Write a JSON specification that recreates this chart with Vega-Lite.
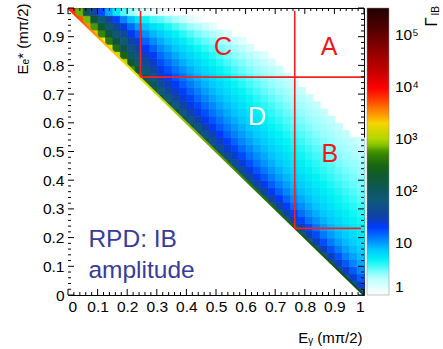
{
"$schema":"https://vega.github.io/schema/vega-lite/v6.json",
"width":296,"height":287,
"autosize":{"type":"none"},
"padding":{"left":68,"top":8,"right":79,"bottom":54},
"background":"white",
"config":{"view":{"stroke":null},"font":"Liberation Sans",
"axis":{"zindex":1,"grid":false,"domainColor":"black","domainWidth":1,"tickColor":"black","tickWidth":1,"labelColor":"black","labelFont":"Liberation Sans","labelFontSize":15.5,"titleFont":"Liberation Sans","titleFontWeight":"normal","titleColor":"black","titleFontSize":15}},
"datasets":{
"cells":[
{"x":0.0125,"y":0.9875,"v":6320},
{"x":0.0375,"y":0.9625,"v":4800},{"x":0.0375,"y":0.9875,"v":685},
{"x":0.0625,"y":0.9375,"v":3130},{"x":0.0625,"y":0.9625,"v":722},{"x":0.0625,"y":0.9875,"v":120},
{"x":0.0875,"y":0.9125,"v":2274},{"x":0.0875,"y":0.9375,"v":599},{"x":0.0875,"y":0.9625,"v":180},{"x":0.0875,"y":0.9875,"v":39.9},
{"x":0.1125,"y":0.8875,"v":1765},{"x":0.1125,"y":0.9125,"v":494},{"x":0.1125,"y":0.9375,"v":176.5},{"x":0.1125,"y":0.9625,"v":70.6},{"x":0.1125,"y":0.9875,"v":17.65},
{"x":0.1375,"y":0.8625,"v":1430},{"x":0.1375,"y":0.8875,"v":415},{"x":0.1375,"y":0.9125,"v":161},{"x":0.1375,"y":0.9375,"v":76.9},{"x":0.1375,"y":0.9625,"v":34.6},{"x":0.1375,"y":0.9875,"v":9.22},
{"x":0.1625,"y":0.8375,"v":1192},{"x":0.1625,"y":0.8625,"v":354},{"x":0.1625,"y":0.8875,"v":145},{"x":0.1625,"y":0.9125,"v":75.2},{"x":0.1625,"y":0.9375,"v":40.3},{"x":0.1625,"y":0.9625,"v":19.3},{"x":0.1625,"y":0.9875,"v":5.37},
{"x":0.1875,"y":0.8125,"v":1015},{"x":0.1875,"y":0.8375,"v":307},{"x":0.1875,"y":0.8625,"v":130},{"x":0.1875,"y":0.8875,"v":70.8},{"x":0.1875,"y":0.9125,"v":41.3},{"x":0.1875,"y":0.9375,"v":23.6},{"x":0.1875,"y":0.9625,"v":11.8},{"x":0.1875,"y":0.9875,"v":3.37},
{"x":0.2125,"y":0.7875,"v":562},{"x":0.2125,"y":0.8125,"v":194},{"x":0.2125,"y":0.8375,"v":91.2},{"x":0.2125,"y":0.8625,"v":54.5},{"x":0.2125,"y":0.8875,"v":35.1},{"x":0.2125,"y":0.9125,"v":22.9},{"x":0.2125,"y":0.9375,"v":14.4},{"x":0.2125,"y":0.9625,"v":7.89},{"x":0.2125,"y":0.9875,"v":2.60},
{"x":0.2375,"y":0.7625,"v":499},{"x":0.2375,"y":0.7875,"v":173},{"x":0.2375,"y":0.8125,"v":83.0},{"x":0.2375,"y":0.8375,"v":50.7},{"x":0.2375,"y":0.8625,"v":33.8},{"x":0.2375,"y":0.8875,"v":23.0},{"x":0.2375,"y":0.9125,"v":15.6},{"x":0.2375,"y":0.9375,"v":10.0},{"x":0.2375,"y":0.9625,"v":5.61},{"x":0.2375,"y":0.9875,"v":1.88},
{"x":0.2625,"y":0.7375,"v":294},{"x":0.2625,"y":0.7625,"v":115.5},{"x":0.2625,"y":0.7875,"v":60.7},{"x":0.2625,"y":0.8125,"v":39.7},{"x":0.2625,"y":0.8375,"v":28.1},{"x":0.2625,"y":0.8625,"v":20.6},{"x":0.2625,"y":0.8875,"v":15.1},{"x":0.2625,"y":0.9125,"v":10.9},{"x":0.2625,"y":0.9375,"v":7.52},{"x":0.2625,"y":0.9625,"v":4.55},{"x":0.2625,"y":0.9875,"v":1.73},
{"x":0.2875,"y":0.7125,"v":268},{"x":0.2875,"y":0.7375,"v":106},{"x":0.2875,"y":0.7625,"v":56.2},{"x":0.2875,"y":0.7875,"v":37.2},{"x":0.2875,"y":0.8125,"v":26.7},{"x":0.2875,"y":0.8375,"v":19.9},{"x":0.2875,"y":0.8625,"v":15.1},{"x":0.2875,"y":0.8875,"v":11.3},{"x":0.2875,"y":0.9125,"v":8.35},{"x":0.2875,"y":0.9375,"v":5.81},{"x":0.2875,"y":0.9625,"v":3.55},{"x":0.2875,"y":0.9875,"v":1.36},
{"x":0.3125,"y":0.6875,"v":166},{"x":0.3125,"y":0.7125,"v":73.8},{"x":0.3125,"y":0.7375,"v":42.6},{"x":0.3125,"y":0.7625,"v":29.9},{"x":0.3125,"y":0.7875,"v":22.6},{"x":0.3125,"y":0.8125,"v":17.7},{"x":0.3125,"y":0.8375,"v":14.1},{"x":0.3125,"y":0.8625,"v":11.2},{"x":0.3125,"y":0.8875,"v":8.93},{"x":0.3125,"y":0.9125,"v":6.90},{"x":0.3125,"y":0.9375,"v":5.06},{"x":0.3125,"y":0.9625,"v":3.32},{"x":0.3125,"y":0.9875,"v":1.45},
{"x":0.3375,"y":0.6625,"v":155},{"x":0.3375,"y":0.6875,"v":69.2},{"x":0.3375,"y":0.7125,"v":40.2},{"x":0.3375,"y":0.7375,"v":28.4},{"x":0.3375,"y":0.7625,"v":21.6},{"x":0.3375,"y":0.7875,"v":17.1},{"x":0.3375,"y":0.8125,"v":13.8},{"x":0.3375,"y":0.8375,"v":11.2},{"x":0.3375,"y":0.8625,"v":9.08},{"x":0.3375,"y":0.8875,"v":7.27},{"x":0.3375,"y":0.9125,"v":5.66},{"x":0.3375,"y":0.9375,"v":4.19},{"x":0.3375,"y":0.9625,"v":2.75},{"x":0.3375,"y":0.9875,"v":1.21},
{"x":0.3625,"y":0.6375,"v":145},{"x":0.3625,"y":0.6625,"v":64.9},{"x":0.3625,"y":0.6875,"v":37.9},{"x":0.3625,"y":0.7125,"v":26.9},{"x":0.3625,"y":0.7375,"v":20.6},{"x":0.3625,"y":0.7625,"v":16.5},{"x":0.3625,"y":0.7875,"v":13.4},{"x":0.3625,"y":0.8125,"v":11.1},{"x":0.3625,"y":0.8375,"v":9.08},{"x":0.3625,"y":0.8625,"v":7.44},{"x":0.3625,"y":0.8875,"v":6.01},{"x":0.3625,"y":0.9125,"v":4.71},{"x":0.3625,"y":0.9375,"v":3.51},{"x":0.3625,"y":0.9625,"v":2.31},{"x":0.3625,"y":0.9875,"v":1.02},
{"x":0.3875,"y":0.6125,"v":136},{"x":0.3875,"y":0.6375,"v":61.4},{"x":0.3875,"y":0.6625,"v":35.9},{"x":0.3875,"y":0.6875,"v":25.6},{"x":0.3875,"y":0.7125,"v":19.7},{"x":0.3875,"y":0.7375,"v":15.8},{"x":0.3875,"y":0.7625,"v":13.0},{"x":0.3875,"y":0.7875,"v":10.8},{"x":0.3875,"y":0.8125,"v":9.01},{"x":0.3875,"y":0.8375,"v":7.50},{"x":0.3875,"y":0.8625,"v":6.21},{"x":0.3875,"y":0.8875,"v":5.04},{"x":0.3875,"y":0.9125,"v":3.98},{"x":0.3875,"y":0.9375,"v":2.97},{"x":0.3875,"y":0.9625,"v":1.97},
{"x":0.4125,"y":0.5875,"v":128},{"x":0.4125,"y":0.6125,"v":58.0},{"x":0.4125,"y":0.6375,"v":34.0},{"x":0.4125,"y":0.6625,"v":24.4},{"x":0.4125,"y":0.6875,"v":18.9},{"x":0.4125,"y":0.7125,"v":15.2},{"x":0.4125,"y":0.7375,"v":12.6},{"x":0.4125,"y":0.7625,"v":10.5},{"x":0.4125,"y":0.7875,"v":8.87},{"x":0.4125,"y":0.8125,"v":7.48},{"x":0.4125,"y":0.8375,"v":6.29},{"x":0.4125,"y":0.8625,"v":5.24},{"x":0.4125,"y":0.8875,"v":4.27},{"x":0.4125,"y":0.9125,"v":3.40},{"x":0.4125,"y":0.9375,"v":2.54},{"x":0.4125,"y":0.9625,"v":1.70},
{"x":0.4375,"y":0.5625,"v":122},{"x":0.4375,"y":0.5875,"v":54.7},{"x":0.4375,"y":0.6125,"v":32.4},{"x":0.4375,"y":0.6375,"v":23.2},{"x":0.4375,"y":0.6625,"v":18.1},{"x":0.4375,"y":0.6875,"v":14.6},{"x":0.4375,"y":0.7125,"v":12.2},{"x":0.4375,"y":0.7375,"v":10.2},{"x":0.4375,"y":0.7625,"v":8.69},{"x":0.4375,"y":0.7875,"v":7.41},{"x":0.4375,"y":0.8125,"v":6.31},{"x":0.4375,"y":0.8375,"v":5.33},{"x":0.4375,"y":0.8625,"v":4.47},{"x":0.4375,"y":0.8875,"v":3.67},{"x":0.4375,"y":0.9125,"v":2.92},{"x":0.4375,"y":0.9375,"v":2.21},{"x":0.4375,"y":0.9625,"v":1.47},
{"x":0.4625,"y":0.5375,"v":115},{"x":0.4625,"y":0.5625,"v":52.0},{"x":0.4625,"y":0.5875,"v":30.8},{"x":0.4625,"y":0.6125,"v":22.2},{"x":0.4625,"y":0.6375,"v":17.3},{"x":0.4625,"y":0.6625,"v":14.1},{"x":0.4625,"y":0.6875,"v":11.8},{"x":0.4625,"y":0.7125,"v":9.95},{"x":0.4625,"y":0.7375,"v":8.50},{"x":0.4625,"y":0.7625,"v":7.30},{"x":0.4625,"y":0.7875,"v":6.27},{"x":0.4625,"y":0.8125,"v":5.38},{"x":0.4625,"y":0.8375,"v":4.57},{"x":0.4625,"y":0.8625,"v":3.85},{"x":0.4625,"y":0.8875,"v":3.18},{"x":0.4625,"y":0.9125,"v":2.54},{"x":0.4625,"y":0.9375,"v":1.92},
{"x":0.4875,"y":0.5125,"v":110},{"x":0.4875,"y":0.5375,"v":49.7},{"x":0.4875,"y":0.5625,"v":29.4},{"x":0.4875,"y":0.5875,"v":21.2},{"x":0.4875,"y":0.6125,"v":16.6},{"x":0.4875,"y":0.6375,"v":13.5},{"x":0.4875,"y":0.6625,"v":11.4},{"x":0.4875,"y":0.6875,"v":9.66},{"x":0.4875,"y":0.7125,"v":8.29},{"x":0.4875,"y":0.7375,"v":7.18},{"x":0.4875,"y":0.7625,"v":6.21},{"x":0.4875,"y":0.7875,"v":5.38},{"x":0.4875,"y":0.8125,"v":4.63},{"x":0.4875,"y":0.8375,"v":3.97},{"x":0.4875,"y":0.8625,"v":3.35},{"x":0.4875,"y":0.8875,"v":2.77},{"x":0.4875,"y":0.9125,"v":2.22},{"x":0.4875,"y":0.9375,"v":1.68},
{"x":0.5125,"y":0.4875,"v":104},{"x":0.5125,"y":0.5125,"v":47.3},{"x":0.5125,"y":0.5375,"v":28.0},{"x":0.5125,"y":0.5625,"v":20.3},{"x":0.5125,"y":0.5875,"v":16.0},{"x":0.5125,"y":0.6125,"v":13.1},{"x":0.5125,"y":0.6375,"v":11.0},{"x":0.5125,"y":0.6625,"v":9.37},{"x":0.5125,"y":0.6875,"v":8.09},{"x":0.5125,"y":0.7125,"v":7.03},{"x":0.5125,"y":0.7375,"v":6.12},{"x":0.5125,"y":0.7625,"v":5.34},{"x":0.5125,"y":0.7875,"v":4.65},{"x":0.5125,"y":0.8125,"v":4.03},{"x":0.5125,"y":0.8375,"v":3.46},{"x":0.5125,"y":0.8625,"v":2.94},{"x":0.5125,"y":0.8875,"v":2.44},{"x":0.5125,"y":0.9125,"v":1.96},
{"x":0.5375,"y":0.4625,"v":99.9},{"x":0.5375,"y":0.4875,"v":45.2},{"x":0.5375,"y":0.5125,"v":26.9},{"x":0.5375,"y":0.5375,"v":19.5},{"x":0.5375,"y":0.5625,"v":15.3},{"x":0.5375,"y":0.5875,"v":12.6},{"x":0.5375,"y":0.6125,"v":10.6},{"x":0.5375,"y":0.6375,"v":9.10},{"x":0.5375,"y":0.6625,"v":7.88},{"x":0.5375,"y":0.6875,"v":6.87},{"x":0.5375,"y":0.7125,"v":6.02},{"x":0.5375,"y":0.7375,"v":5.28},{"x":0.5375,"y":0.7625,"v":4.63},{"x":0.5375,"y":0.7875,"v":4.05},{"x":0.5375,"y":0.8125,"v":3.52},{"x":0.5375,"y":0.8375,"v":3.04},{"x":0.5375,"y":0.8625,"v":2.58},{"x":0.5375,"y":0.8875,"v":2.15},{"x":0.5375,"y":0.9125,"v":1.74},
{"x":0.5625,"y":0.4375,"v":95.4},{"x":0.5625,"y":0.4625,"v":43.3},{"x":0.5625,"y":0.4875,"v":25.8},{"x":0.5625,"y":0.5125,"v":18.7},{"x":0.5625,"y":0.5375,"v":14.8},{"x":0.5625,"y":0.5625,"v":12.2},{"x":0.5625,"y":0.5875,"v":10.3},{"x":0.5625,"y":0.6125,"v":8.83},{"x":0.5625,"y":0.6375,"v":7.67},{"x":0.5625,"y":0.6625,"v":6.71},{"x":0.5625,"y":0.6875,"v":5.91},{"x":0.5625,"y":0.7125,"v":5.22},{"x":0.5625,"y":0.7375,"v":4.60},{"x":0.5625,"y":0.7625,"v":4.05},{"x":0.5625,"y":0.7875,"v":3.57},{"x":0.5625,"y":0.8125,"v":3.11},{"x":0.5625,"y":0.8375,"v":2.70},{"x":0.5625,"y":0.8625,"v":2.30},{"x":0.5625,"y":0.8875,"v":1.92},
{"x":0.5875,"y":0.4125,"v":91.6},{"x":0.5875,"y":0.4375,"v":41.6},{"x":0.5875,"y":0.4625,"v":24.8},{"x":0.5875,"y":0.4875,"v":18.1},{"x":0.5875,"y":0.5125,"v":14.2},{"x":0.5875,"y":0.5375,"v":11.7},{"x":0.5875,"y":0.5625,"v":9.95},{"x":0.5875,"y":0.5875,"v":8.57},{"x":0.5875,"y":0.6125,"v":7.46},{"x":0.5875,"y":0.6375,"v":6.56},{"x":0.5875,"y":0.6625,"v":5.80},{"x":0.5875,"y":0.6875,"v":5.14},{"x":0.5875,"y":0.7125,"v":4.56},{"x":0.5875,"y":0.7375,"v":4.05},{"x":0.5875,"y":0.7625,"v":3.58},{"x":0.5875,"y":0.7875,"v":3.15},{"x":0.5875,"y":0.8125,"v":2.77},{"x":0.5875,"y":0.8375,"v":2.40},{"x":0.5875,"y":0.8625,"v":2.06},{"x":0.5875,"y":0.8875,"v":1.72},
{"x":0.6125,"y":0.3875,"v":87.7},{"x":0.6125,"y":0.4125,"v":40.0},{"x":0.6125,"y":0.4375,"v":23.9},{"x":0.6125,"y":0.4625,"v":17.4},{"x":0.6125,"y":0.4875,"v":13.7},{"x":0.6125,"y":0.5125,"v":11.4},{"x":0.6125,"y":0.5375,"v":9.64},{"x":0.6125,"y":0.5625,"v":8.33},{"x":0.6125,"y":0.5875,"v":7.27},{"x":0.6125,"y":0.6125,"v":6.41},{"x":0.6125,"y":0.6375,"v":5.69},{"x":0.6125,"y":0.6625,"v":5.06},{"x":0.6125,"y":0.6875,"v":4.51},{"x":0.6125,"y":0.7125,"v":4.01},{"x":0.6125,"y":0.7375,"v":3.58},{"x":0.6125,"y":0.7625,"v":3.18},{"x":0.6125,"y":0.7875,"v":2.81},{"x":0.6125,"y":0.8125,"v":2.46},{"x":0.6125,"y":0.8375,"v":2.15},{"x":0.6125,"y":0.8625,"v":1.84},
{"x":0.6375,"y":0.3625,"v":84.5},{"x":0.6375,"y":0.3875,"v":38.5},{"x":0.6375,"y":0.4125,"v":22.9},{"x":0.6375,"y":0.4375,"v":16.8},{"x":0.6375,"y":0.4625,"v":13.3},{"x":0.6375,"y":0.4875,"v":11.0},{"x":0.6375,"y":0.5125,"v":9.35},{"x":0.6375,"y":0.5375,"v":8.09},{"x":0.6375,"y":0.5625,"v":7.08},{"x":0.6375,"y":0.5875,"v":6.25},{"x":0.6375,"y":0.6125,"v":5.57},{"x":0.6375,"y":0.6375,"v":4.97},{"x":0.6375,"y":0.6625,"v":4.44},{"x":0.6375,"y":0.6875,"v":3.99},{"x":0.6375,"y":0.7125,"v":3.57},{"x":0.6375,"y":0.7375,"v":3.19},{"x":0.6375,"y":0.7625,"v":2.84},{"x":0.6375,"y":0.7875,"v":2.52},{"x":0.6375,"y":0.8125,"v":2.22},{"x":0.6375,"y":0.8375,"v":1.93},
{"x":0.6625,"y":0.3375,"v":81.2},{"x":0.6625,"y":0.3625,"v":37.1},{"x":0.6625,"y":0.3875,"v":22.2},{"x":0.6625,"y":0.4125,"v":16.2},{"x":0.6625,"y":0.4375,"v":12.9},{"x":0.6625,"y":0.4625,"v":10.6},{"x":0.6625,"y":0.4875,"v":9.07},{"x":0.6625,"y":0.5125,"v":7.86},{"x":0.6625,"y":0.5375,"v":6.90},{"x":0.6625,"y":0.5625,"v":6.11},{"x":0.6625,"y":0.5875,"v":5.45},{"x":0.6625,"y":0.6125,"v":4.89},{"x":0.6625,"y":0.6375,"v":4.38},{"x":0.6625,"y":0.6625,"v":3.94},{"x":0.6625,"y":0.6875,"v":3.55},{"x":0.6625,"y":0.7125,"v":3.19},{"x":0.6625,"y":0.7375,"v":2.86},{"x":0.6625,"y":0.7625,"v":2.55},{"x":0.6625,"y":0.7875,"v":2.27},{"x":0.6625,"y":0.8125,"v":2.00},{"x":0.6625,"y":0.8375,"v":1.75},
{"x":0.6875,"y":0.3125,"v":78.3},{"x":0.6875,"y":0.3375,"v":35.7},{"x":0.6875,"y":0.3625,"v":21.4},{"x":0.6875,"y":0.3875,"v":15.7},{"x":0.6875,"y":0.4125,"v":12.4},{"x":0.6875,"y":0.4375,"v":10.3},{"x":0.6875,"y":0.4625,"v":8.81},{"x":0.6875,"y":0.4875,"v":7.65},{"x":0.6875,"y":0.5125,"v":6.72},{"x":0.6875,"y":0.5375,"v":5.97},{"x":0.6875,"y":0.5625,"v":5.33},{"x":0.6875,"y":0.5875,"v":4.78},{"x":0.6875,"y":0.6125,"v":4.31},{"x":0.6875,"y":0.6375,"v":3.89},{"x":0.6875,"y":0.6625,"v":3.51},{"x":0.6875,"y":0.6875,"v":3.17},{"x":0.6875,"y":0.7125,"v":2.86},{"x":0.6875,"y":0.7375,"v":2.57},{"x":0.6875,"y":0.7625,"v":2.31},{"x":0.6875,"y":0.7875,"v":2.06},{"x":0.6875,"y":0.8125,"v":1.82},
{"x":0.7125,"y":0.2875,"v":75.8},{"x":0.7125,"y":0.3125,"v":34.6},{"x":0.7125,"y":0.3375,"v":20.7},{"x":0.7125,"y":0.3625,"v":15.2},{"x":0.7125,"y":0.3875,"v":12.1},{"x":0.7125,"y":0.4125,"v":10.0},{"x":0.7125,"y":0.4375,"v":8.57},{"x":0.7125,"y":0.4625,"v":7.44},{"x":0.7125,"y":0.4875,"v":6.57},{"x":0.7125,"y":0.5125,"v":5.83},{"x":0.7125,"y":0.5375,"v":5.24},{"x":0.7125,"y":0.5625,"v":4.70},{"x":0.7125,"y":0.5875,"v":4.25},{"x":0.7125,"y":0.6125,"v":3.85},{"x":0.7125,"y":0.6375,"v":3.48},{"x":0.7125,"y":0.6625,"v":3.15},{"x":0.7125,"y":0.6875,"v":2.86},{"x":0.7125,"y":0.7125,"v":2.58},{"x":0.7125,"y":0.7375,"v":2.32},{"x":0.7125,"y":0.7625,"v":2.10},{"x":0.7125,"y":0.7875,"v":1.87},
{"x":0.7375,"y":0.2625,"v":73.4},{"x":0.7375,"y":0.2875,"v":33.5},{"x":0.7375,"y":0.3125,"v":20.1},{"x":0.7375,"y":0.3375,"v":14.8},{"x":0.7375,"y":0.3625,"v":11.7},{"x":0.7375,"y":0.3875,"v":9.77},{"x":0.7375,"y":0.4125,"v":8.34},{"x":0.7375,"y":0.4375,"v":7.27},{"x":0.7375,"y":0.4625,"v":6.41},{"x":0.7375,"y":0.4875,"v":5.72},{"x":0.7375,"y":0.5125,"v":5.12},{"x":0.7375,"y":0.5375,"v":4.61},{"x":0.7375,"y":0.5625,"v":4.19},{"x":0.7375,"y":0.5875,"v":3.78},{"x":0.7375,"y":0.6125,"v":3.45},{"x":0.7375,"y":0.6375,"v":3.13},{"x":0.7375,"y":0.6625,"v":2.85},{"x":0.7375,"y":0.6875,"v":2.58},{"x":0.7375,"y":0.7125,"v":2.35},{"x":0.7375,"y":0.7375,"v":2.12},{"x":0.7375,"y":0.7625,"v":1.91},
{"x":0.7625,"y":0.2375,"v":70.9},{"x":0.7625,"y":0.2625,"v":32.4},{"x":0.7625,"y":0.2875,"v":19.5},{"x":0.7625,"y":0.3125,"v":14.3},{"x":0.7625,"y":0.3375,"v":11.4},{"x":0.7625,"y":0.3625,"v":9.50},{"x":0.7625,"y":0.3875,"v":8.12},{"x":0.7625,"y":0.4125,"v":7.09},{"x":0.7625,"y":0.4375,"v":6.26},{"x":0.7625,"y":0.4625,"v":5.58},{"x":0.7625,"y":0.4875,"v":5.02},{"x":0.7625,"y":0.5125,"v":4.53},{"x":0.7625,"y":0.5375,"v":4.11},{"x":0.7625,"y":0.5625,"v":3.74},{"x":0.7625,"y":0.5875,"v":3.40},{"x":0.7625,"y":0.6125,"v":3.11},{"x":0.7625,"y":0.6375,"v":2.84},{"x":0.7625,"y":0.6625,"v":2.58},{"x":0.7625,"y":0.6875,"v":2.35},{"x":0.7625,"y":0.7125,"v":2.14},{"x":0.7625,"y":0.7375,"v":1.93},
{"x":0.7875,"y":0.2125,"v":69.2},{"x":0.7875,"y":0.2375,"v":31.5},{"x":0.7875,"y":0.2625,"v":19.0},{"x":0.7875,"y":0.2875,"v":13.9},{"x":0.7875,"y":0.3125,"v":11.1},{"x":0.7875,"y":0.3375,"v":9.26},{"x":0.7875,"y":0.3625,"v":7.93},{"x":0.7875,"y":0.3875,"v":6.93},{"x":0.7875,"y":0.4125,"v":6.12},{"x":0.7875,"y":0.4375,"v":5.47},{"x":0.7875,"y":0.4625,"v":4.92},{"x":0.7875,"y":0.4875,"v":4.45},{"x":0.7875,"y":0.5125,"v":4.05},{"x":0.7875,"y":0.5375,"v":3.69},{"x":0.7875,"y":0.5625,"v":3.37},{"x":0.7875,"y":0.5875,"v":3.07},{"x":0.7875,"y":0.6125,"v":2.81},{"x":0.7875,"y":0.6375,"v":2.58},{"x":0.7875,"y":0.6625,"v":2.35},{"x":0.7875,"y":0.6875,"v":2.15},{"x":0.7875,"y":0.7125,"v":1.96},
{"x":0.8125,"y":0.1875,"v":67.0},{"x":0.8125,"y":0.2125,"v":30.7},{"x":0.8125,"y":0.2375,"v":18.4},{"x":0.8125,"y":0.2625,"v":13.5},{"x":0.8125,"y":0.2875,"v":10.8},{"x":0.8125,"y":0.3125,"v":9.03},{"x":0.8125,"y":0.3375,"v":7.76},{"x":0.8125,"y":0.3625,"v":6.77},{"x":0.8125,"y":0.3875,"v":6.00},{"x":0.8125,"y":0.4125,"v":5.36},{"x":0.8125,"y":0.4375,"v":4.84},{"x":0.8125,"y":0.4625,"v":4.37},{"x":0.8125,"y":0.4875,"v":3.99},{"x":0.8125,"y":0.5125,"v":3.64},{"x":0.8125,"y":0.5375,"v":3.33},{"x":0.8125,"y":0.5625,"v":3.05},{"x":0.8125,"y":0.5875,"v":2.80},{"x":0.8125,"y":0.6125,"v":2.57},{"x":0.8125,"y":0.6375,"v":2.35},{"x":0.8125,"y":0.6625,"v":2.15},{"x":0.8125,"y":0.6875,"v":1.97},
{"x":0.8375,"y":0.1625,"v":65.4},{"x":0.8375,"y":0.1875,"v":29.8},{"x":0.8375,"y":0.2125,"v":17.9},{"x":0.8375,"y":0.2375,"v":13.2},{"x":0.8375,"y":0.2625,"v":10.6},{"x":0.8375,"y":0.2875,"v":8.83},{"x":0.8375,"y":0.3125,"v":7.58},{"x":0.8375,"y":0.3375,"v":6.64},{"x":0.8375,"y":0.3625,"v":5.87},{"x":0.8375,"y":0.3875,"v":5.26},{"x":0.8375,"y":0.4125,"v":4.75},{"x":0.8375,"y":0.4375,"v":4.30},{"x":0.8375,"y":0.4625,"v":3.92},{"x":0.8375,"y":0.4875,"v":3.59},{"x":0.8375,"y":0.5125,"v":3.30},{"x":0.8375,"y":0.5375,"v":3.02},{"x":0.8375,"y":0.5625,"v":2.78},{"x":0.8375,"y":0.5875,"v":2.55},{"x":0.8375,"y":0.6125,"v":2.35},{"x":0.8375,"y":0.6375,"v":2.16},{"x":0.8375,"y":0.6625,"v":1.98},
{"x":0.8625,"y":0.1375,"v":63.5},{"x":0.8625,"y":0.1625,"v":29.1},{"x":0.8625,"y":0.1875,"v":17.6},{"x":0.8625,"y":0.2125,"v":12.9},{"x":0.8625,"y":0.2375,"v":10.3},{"x":0.8625,"y":0.2625,"v":8.63},{"x":0.8625,"y":0.2875,"v":7.43},{"x":0.8625,"y":0.3125,"v":6.50},{"x":0.8625,"y":0.3375,"v":5.77},{"x":0.8625,"y":0.3625,"v":5.16},{"x":0.8625,"y":0.3875,"v":4.67},{"x":0.8625,"y":0.4125,"v":4.25},{"x":0.8625,"y":0.4375,"v":3.87},{"x":0.8625,"y":0.4625,"v":3.55},{"x":0.8625,"y":0.4875,"v":3.26},{"x":0.8625,"y":0.5125,"v":2.99},{"x":0.8625,"y":0.5375,"v":2.75},{"x":0.8625,"y":0.5625,"v":2.54},{"x":0.8625,"y":0.5875,"v":2.35},{"x":0.8625,"y":0.6125,"v":2.16},{"x":0.8625,"y":0.6375,"v":1.99},
{"x":0.8875,"y":0.1125,"v":62.3},{"x":0.8875,"y":0.1375,"v":28.4},{"x":0.8875,"y":0.1625,"v":17.1},{"x":0.8875,"y":0.1875,"v":12.6},{"x":0.8875,"y":0.2125,"v":10.1},{"x":0.8875,"y":0.2375,"v":8.45},{"x":0.8875,"y":0.2625,"v":7.27},{"x":0.8875,"y":0.2875,"v":6.38},{"x":0.8875,"y":0.3125,"v":5.66},{"x":0.8875,"y":0.3375,"v":5.08},{"x":0.8875,"y":0.3625,"v":4.59},{"x":0.8875,"y":0.3875,"v":4.17},{"x":0.8875,"y":0.4125,"v":3.82},{"x":0.8875,"y":0.4375,"v":3.51},{"x":0.8875,"y":0.4625,"v":3.21},{"x":0.8875,"y":0.4875,"v":2.97},{"x":0.8875,"y":0.5125,"v":2.74},{"x":0.8875,"y":0.5375,"v":2.53},{"x":0.8875,"y":0.5625,"v":2.34},{"x":0.8875,"y":0.5875,"v":2.16},{"x":0.8875,"y":0.6125,"v":2.00},
{"x":0.9125,"y":0.0875,"v":60.7},{"x":0.9125,"y":0.1125,"v":27.8},{"x":0.9125,"y":0.1375,"v":16.8},{"x":0.9125,"y":0.1625,"v":12.4},{"x":0.9125,"y":0.1875,"v":9.90},{"x":0.9125,"y":0.2125,"v":8.28},{"x":0.9125,"y":0.2375,"v":7.13},{"x":0.9125,"y":0.2625,"v":6.25},{"x":0.9125,"y":0.2875,"v":5.56},{"x":0.9125,"y":0.3125,"v":5.00},{"x":0.9125,"y":0.3375,"v":4.53},{"x":0.9125,"y":0.3625,"v":4.12},{"x":0.9125,"y":0.3875,"v":3.76},{"x":0.9125,"y":0.4125,"v":3.46},{"x":0.9125,"y":0.4375,"v":3.18},{"x":0.9125,"y":0.4625,"v":2.94},{"x":0.9125,"y":0.4875,"v":2.71},{"x":0.9125,"y":0.5125,"v":2.52},{"x":0.9125,"y":0.5375,"v":2.32},{"x":0.9125,"y":0.5625,"v":2.15},{"x":0.9125,"y":0.5875,"v":2.00},
{"x":0.9375,"y":0.0625,"v":59.4},{"x":0.9375,"y":0.0875,"v":27.2},{"x":0.9375,"y":0.1125,"v":16.4},{"x":0.9375,"y":0.1375,"v":12.1},{"x":0.9375,"y":0.1625,"v":9.70},{"x":0.9375,"y":0.1875,"v":8.12},{"x":0.9375,"y":0.2125,"v":7.01},{"x":0.9375,"y":0.2375,"v":6.15},{"x":0.9375,"y":0.2625,"v":5.47},{"x":0.9375,"y":0.2875,"v":4.92},{"x":0.9375,"y":0.3125,"v":4.45},{"x":0.9375,"y":0.3375,"v":4.05},{"x":0.9375,"y":0.3625,"v":3.72},{"x":0.9375,"y":0.3875,"v":3.42},{"x":0.9375,"y":0.4125,"v":3.15},{"x":0.9375,"y":0.4375,"v":2.91},{"x":0.9375,"y":0.4625,"v":2.70},{"x":0.9375,"y":0.4875,"v":2.50},{"x":0.9375,"y":0.5125,"v":2.32},{"x":0.9375,"y":0.5375,"v":2.15},{"x":0.9375,"y":0.5625,"v":2.00},
{"x":0.9625,"y":0.0375,"v":58.5},{"x":0.9625,"y":0.0625,"v":26.7},{"x":0.9625,"y":0.0875,"v":16.1},{"x":0.9625,"y":0.1125,"v":11.9},{"x":0.9625,"y":0.1375,"v":9.53},{"x":0.9625,"y":0.1625,"v":8.00},{"x":0.9625,"y":0.1875,"v":6.90},{"x":0.9625,"y":0.2125,"v":6.05},{"x":0.9625,"y":0.2375,"v":5.38},{"x":0.9625,"y":0.2625,"v":4.84},{"x":0.9625,"y":0.2875,"v":4.39},{"x":0.9625,"y":0.3125,"v":4.01},{"x":0.9625,"y":0.3375,"v":3.68},{"x":0.9625,"y":0.3625,"v":3.38},{"x":0.9625,"y":0.3875,"v":3.12},{"x":0.9625,"y":0.4125,"v":2.89},{"x":0.9625,"y":0.4375,"v":2.68},{"x":0.9625,"y":0.4625,"v":2.49},{"x":0.9625,"y":0.4875,"v":2.31},{"x":0.9625,"y":0.5125,"v":2.15},{"x":0.9625,"y":0.5375,"v":2.00},
{"x":0.9875,"y":0.0125,"v":57.4},{"x":0.9875,"y":0.0375,"v":26.2},{"x":0.9875,"y":0.0625,"v":15.8},{"x":0.9875,"y":0.0875,"v":11.7},{"x":0.9875,"y":0.1125,"v":9.39},{"x":0.9875,"y":0.1375,"v":7.86},{"x":0.9875,"y":0.1625,"v":6.79},{"x":0.9875,"y":0.1875,"v":5.96},{"x":0.9875,"y":0.2125,"v":5.31},{"x":0.9875,"y":0.2375,"v":4.78},{"x":0.9875,"y":0.2625,"v":4.34},{"x":0.9875,"y":0.2875,"v":3.97},{"x":0.9875,"y":0.3125,"v":3.64},{"x":0.9875,"y":0.3375,"v":3.35},{"x":0.9875,"y":0.3625,"v":3.10},{"x":0.9875,"y":0.3875,"v":2.87},{"x":0.9875,"y":0.4125,"v":2.67},{"x":0.9875,"y":0.4375,"v":2.48},{"x":0.9875,"y":0.4625,"v":2.31},{"x":0.9875,"y":0.4875,"v":2.15},{"x":0.9875,"y":0.5125,"v":2.00},{"x":0.9875,"y":0.5375,"v":1.86}
],
"lines":[
{"x":0.245,"x2":0.245,"y":0.759,"y2":0.99},
{"x":0.245,"x2":1.0,"y":0.759,"y2":0.759},
{"x":0.766,"x2":0.766,"y":0.232,"y2":0.99},
{"x":0.766,"x2":0.99,"y":0.232,"y2":0.232}
],
"tk":[
{"p":0,"m":1},{"p":0.02,"m":0},{"p":0.04,"m":0},{"p":0.06,"m":0},{"p":0.08,"m":0},
{"p":0.1,"m":1},{"p":0.12,"m":0},{"p":0.14,"m":0},{"p":0.16,"m":0},{"p":0.18,"m":0},
{"p":0.2,"m":1},{"p":0.22,"m":0},{"p":0.24,"m":0},{"p":0.26,"m":0},{"p":0.28,"m":0},
{"p":0.3,"m":1},{"p":0.32,"m":0},{"p":0.34,"m":0},{"p":0.36,"m":0},{"p":0.38,"m":0},
{"p":0.4,"m":1},{"p":0.42,"m":0},{"p":0.44,"m":0},{"p":0.46,"m":0},{"p":0.48,"m":0},
{"p":0.5,"m":1},{"p":0.52,"m":0},{"p":0.54,"m":0},{"p":0.56,"m":0},{"p":0.58,"m":0},
{"p":0.6,"m":1},{"p":0.62,"m":0},{"p":0.64,"m":0},{"p":0.66,"m":0},{"p":0.68,"m":0},
{"p":0.7,"m":1},{"p":0.72,"m":0},{"p":0.74,"m":0},{"p":0.76,"m":0},{"p":0.78,"m":0},
{"p":0.8,"m":1},{"p":0.82,"m":0},{"p":0.84,"m":0},{"p":0.86,"m":0},{"p":0.88,"m":0},
{"p":0.9,"m":1},{"p":0.92,"m":0},{"p":0.94,"m":0},{"p":0.96,"m":0},{"p":0.98,"m":0},
{"p":1,"m":1}
]
},
"layer":[
{"data":{"name":"cells"},
"mark":{"type":"rect","binSpacing":0,"strokeWidth":0.7,"stroke":{"expr":"scale('color', datum.v)"}},
"encoding":{
"x":{"field":"x","type":"quantitative","bin":{"step":0.025,"extent":[0,1]},"scale":{"domain":[0,1],"nice":false,"zero":false},
"axis":{"orient":"bottom","values":[0,0.1,0.2,0.3,0.4,0.5,0.6,0.7,0.8,0.9,1],"format":"~g","ticks":false,"domain":true,"labelPadding":4,"title":"Eᵧ (mπ/2)","titleX":294,"titleY":42,"titleAlign":"right","titleBaseline":"middle","titleAnchor":"end"}},
"y":{"field":"y","type":"quantitative","bin":{"step":0.025,"extent":[0,1]},"scale":{"domain":[0,1],"nice":false,"zero":false},
"axis":{"orient":"left","values":[0,0.1,0.2,0.3,0.4,0.5,0.6,0.7,0.8,0.9,1],"format":"~g","ticks":false,"domain":true,"labelPadding":4,"title":"Eₑ* (mπ/2)","titleX":-46,"titleY":-5,"titleAngle":270,"titleAlign":"right","titleBaseline":"middle","titleAnchor":"end"}},
"color":{"field":"v","type":"quantitative",
"scale":{"type":"log","domain":[1,1.6,2.63,4.68,7.41,11.5,20.4,31.6,67.6,141,288,562,741,1148,1778,2344,3631,5623,9550,17783,38019,79433,331131],
"range":["#ffffff","#eaffff","#90ffff","#00f4f4","#00c8ff","#0088ff","#0038ff","#1040a8","#0f5a78","#0c5448","#166014","#3c8c00","#80c000","#c8e000","#f0f000","#ffb400","#ff8000","#ff4000","#ff0000","#cc0000","#a00000","#700000","#200000"],"interpolate":"rgb","clamp":true},
"legend":{"type":"gradient","orient":"none","legendX":299,"legendY":0,"direction":"vertical","gradientLength":287,"gradientThickness":22,"title":null,"padding":0,"values":[1,10,100,1000,10000,100000],
"labelExpr":"datum.value == 1 ? '1' : datum.value == 10 ? '10' : datum.value == 100 ? '10²' : datum.value == 1000 ? '10³' : datum.value == 10000 ? '10⁴' : '10⁵'",
"labelFont":"Liberation Sans","labelFontSize":15.5,"labelColor":"black","labelOffset":6,"labelBaseline":"middle","labelOverlap":false,"gradientStrokeColor":"#888888","gradientStrokeWidth":0.5}}
}},
{"data":{"values":[{"x":0,"y":1},{"x":1,"y":0}]},
"mark":{"type":"area","color":"white","opacity":1},
"encoding":{
"x":{"field":"x","type":"quantitative","axis":null},
"y":{"field":"y","type":"quantitative","axis":null},
"y2":{"datum":0}
}},
{"data":{"values":[{"x":0,"y":1},{"x":1,"y":0}]},
"mark":{"type":"line","strokeWidth":2.2,"clip":true,"stroke":{"gradient":"linear","x1":0,"y1":0,"x2":1,"y2":0,"stops":[{"offset":0,"color":"#ff1a00"},{"offset":0.06,"color":"#ff6a00"},{"offset":0.13,"color":"#ffb800"},{"offset":0.22,"color":"#e8e400"},{"offset":0.34,"color":"#b4d200"},{"offset":0.47,"color":"#74a800"},{"offset":0.62,"color":"#2e7a0a"},{"offset":0.8,"color":"#175c14"},{"offset":1,"color":"#0e4c22"}]}},
"encoding":{
"x":{"field":"x","type":"quantitative","axis":null},
"y":{"field":"y","type":"quantitative","axis":null}
}},
{"data":{"name":"lines"},
"mark":{"type":"rule","color":"#f52020","strokeWidth":1.6},
"encoding":{
"x":{"field":"x","type":"quantitative","axis":null},
"x2":{"field":"x2"},
"y":{"field":"y","type":"quantitative","axis":null},
"y2":{"field":"y2"}
}},
{"data":{"name":"tk"},"transform":[{"filter":"datum.m == 1"}],
"mark":{"type":"rule","color":"black","strokeWidth":1},
"encoding":{"x":{"field":"p","type":"quantitative","axis":null},"y":{"datum":0,"type":"quantitative","axis":null},"y2":{"datum":0.021}}},
{"data":{"name":"tk"},"transform":[{"filter":"datum.m == 0"}],
"mark":{"type":"rule","color":"black","strokeWidth":1},
"encoding":{"x":{"field":"p","type":"quantitative","axis":null},"y":{"datum":0,"type":"quantitative","axis":null},"y2":{"datum":0.0105}}},
{"data":{"name":"tk"},"transform":[{"filter":"datum.m == 1"}],
"mark":{"type":"rule","color":"black","strokeWidth":1},
"encoding":{"x":{"field":"p","type":"quantitative","axis":null},"y":{"datum":1,"type":"quantitative","axis":null},"y2":{"datum":0.979}}},
{"data":{"name":"tk"},"transform":[{"filter":"datum.m == 0"}],
"mark":{"type":"rule","color":"black","strokeWidth":1},
"encoding":{"x":{"field":"p","type":"quantitative","axis":null},"y":{"datum":1,"type":"quantitative","axis":null},"y2":{"datum":0.9895}}},
{"data":{"name":"tk"},"transform":[{"filter":"datum.m == 1"}],
"mark":{"type":"rule","color":"black","strokeWidth":1},
"encoding":{"y":{"field":"p","type":"quantitative","axis":null},"x":{"datum":0,"type":"quantitative","axis":null},"x2":{"datum":0.0203}}},
{"data":{"name":"tk"},"transform":[{"filter":"datum.m == 0"}],
"mark":{"type":"rule","color":"black","strokeWidth":1},
"encoding":{"y":{"field":"p","type":"quantitative","axis":null},"x":{"datum":0,"type":"quantitative","axis":null},"x2":{"datum":0.0101}}},
{"data":{"name":"tk"},"transform":[{"filter":"datum.m == 1"}],
"mark":{"type":"rule","color":"black","strokeWidth":1},
"encoding":{"y":{"field":"p","type":"quantitative","axis":null},"x":{"datum":1,"type":"quantitative","axis":null},"x2":{"datum":0.9797}}},
{"data":{"name":"tk"},"transform":[{"filter":"datum.m == 0"}],
"mark":{"type":"rule","color":"black","strokeWidth":1},
"encoding":{"y":{"field":"p","type":"quantitative","axis":null},"x":{"datum":1,"type":"quantitative","axis":null},"x2":{"datum":0.9899}}},
{"data":{"values":[{"t":"C","x":0.524,"y":0.836},{"t":"A","x":0.882,"y":0.836},{"t":"B","x":0.885,"y":0.464}]},
"mark":{"type":"text","color":"#f01818","fontSize":25,"font":"Liberation Sans","align":"center","baseline":"alphabetic"},
"encoding":{
"x":{"field":"x","type":"quantitative","axis":null},
"y":{"field":"y","type":"quantitative","axis":null},
"text":{"field":"t"}
}},
{"data":{"values":[{"t":"D","x":0.639,"y":0.592}]},
"mark":{"type":"text","color":"white","fontSize":25,"font":"Liberation Sans","align":"center","baseline":"alphabetic"},
"encoding":{
"x":{"field":"x","type":"quantitative","axis":{"orient":"top","labels":false,"ticks":false,"domain":true,"title":null}},
"y":{"field":"y","type":"quantitative","axis":{"orient":"right","labels":false,"ticks":false,"domain":true,"title":null}},
"text":{"field":"t"}}},
{"data":{"values":[{"t":"RPD: IB","x":0.069,"y":0.168},{"t":"amplitude","x":0.069,"y":0.058}]},
"mark":{"type":"text","color":"#383c9a","fontSize":24.5,"font":"Liberation Sans","align":"left","baseline":"alphabetic"},
"encoding":{"x":{"field":"x","type":"quantitative","axis":null},"y":{"field":"y","type":"quantitative","axis":null},"text":{"field":"t"}}},
{"data":{"values":[{"t":"Γ","x":1.23,"y":0.951}]},
"mark":{"type":"text","color":"black","fontSize":17,"font":"Liberation Sans","align":"center","baseline":"middle","angle":270},
"encoding":{"x":{"field":"x","type":"quantitative","axis":null},"y":{"field":"y","type":"quantitative","axis":null},"text":{"field":"t"}}},
{"data":{"values":[{"t":"IB","x":1.243,"y":0.99}]},
"mark":{"type":"text","color":"black","fontSize":10,"font":"Liberation Sans","align":"center","baseline":"middle","angle":270},
"encoding":{"x":{"field":"x","type":"quantitative","axis":null},"y":{"field":"y","type":"quantitative","axis":null},"text":{"field":"t"}}}
],
"resolve":{"axis":{"x":"independent","y":"independent"}}
}
